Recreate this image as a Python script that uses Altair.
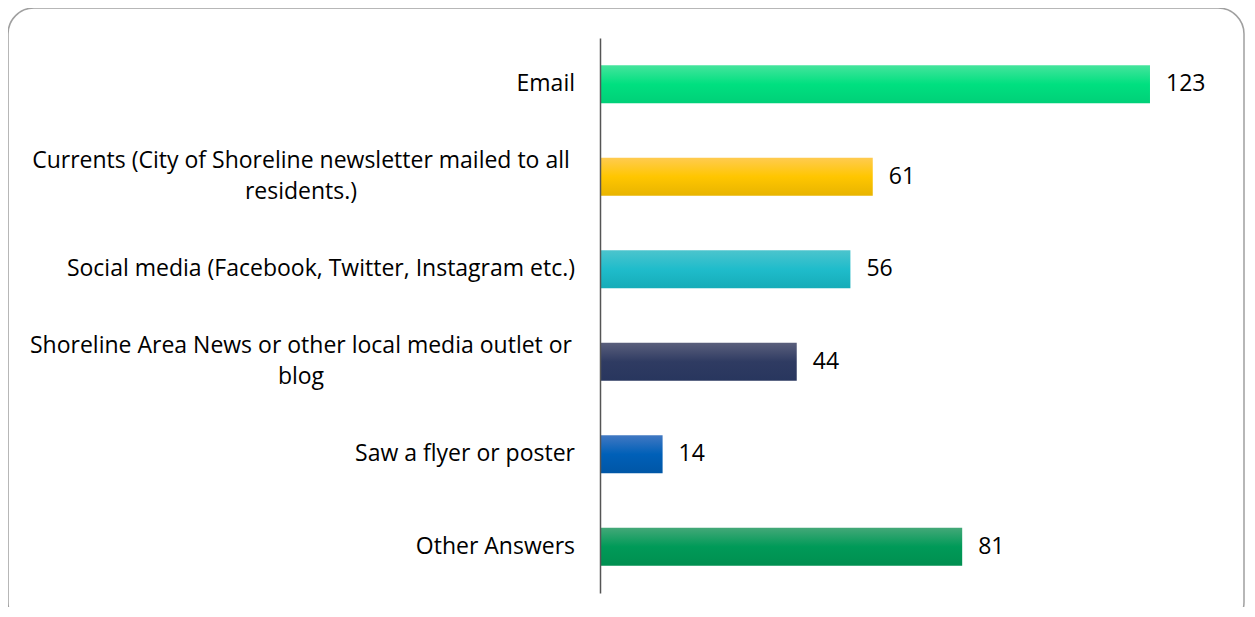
import altair as alt
import pandas as pd

categories = ["Email",
              "Currents (City of Shoreline newsletter mailed to all residents.)",
              "Social media (Facebook, Twitter, Instagram etc.)",
              "Shoreline Area News or other local media outlet or blog",
              "Saw a flyer or poster",
              "Other Answers"]
values = [123, 61, 56, 44, 14, 81]
single_labels = ["Email", "Social media (Facebook, Twitter, Instagram etc.)",
                 "Saw a flyer or poster", "Other Answers"]
multi_labels = {
    "Currents (City of Shoreline newsletter mailed to all residents.)":
        ["Currents (City of Shoreline newsletter mailed to all", "residents.)"],
    "Shoreline Area News or other local media outlet or blog":
        ["Shoreline Area News or other local media outlet or", "blog"],
}
gradients = [
    ["#45e49c", "#00e080", "#00d078"],
    ["#ffcb50", "#ffc600", "#e8b400"],
    ["#4cc4cd", "#1fbccb", "#16acb8"],
    ["#5a5f7c", "#2f3b62", "#28365e"],
    ["#4178c2", "#0060b8", "#0056a6"],
    ["#43a878", "#009a58", "#008f50"],
]

df = pd.DataFrame({"cat": categories, "val": values})
FONT = "Open Sans"
FS = 23

yscale = alt.Scale(domain=categories, paddingInner=0.59, paddingOuter=0.295)
xscale = alt.Scale(domain=[0, 140], nice=False)

border = alt.Chart(alt.Data(values=[{"a": 1}])).mark_rect(
    fill="transparent", stroke="#a0a0a0", strokeWidth=1.5, cornerRadius=26
).encode(x=alt.value(-592), x2=alt.value(644), y=alt.value(-30), y2=alt.value(590))

axis_layer = alt.Chart(df).mark_bar(opacity=0).encode(
    x=alt.X("val:Q", scale=xscale, axis=None),
    y=alt.Y("cat:N", scale=yscale, sort=categories,
            axis=alt.Axis(labels=False, ticks=False, title=None, grid=False,
                          domainColor="#555555", domainWidth=1.5, zindex=1)),
)

bars = []
for c, g in zip(categories, gradients):
    grad = alt.Gradient(gradient="linear", x1=0, x2=0, y1=0, y2=1,
                        stops=[alt.GradientStop(color=g[0], offset=0),
                               alt.GradientStop(color=g[1], offset=0.5),
                               alt.GradientStop(color=g[2], offset=1)])
    bars.append(alt.Chart(df).transform_filter(alt.datum.cat == c).mark_bar(fill=grad).encode(
        x=alt.X("val:Q", scale=xscale),
        y=alt.Y("cat:N", scale=yscale, sort=categories),
    ))

value_text = alt.Chart(df).mark_text(align="left", baseline="middle", dx=16,
                                     font=FONT, fontSize=FS, color="#000000").encode(
    x=alt.X("val:Q", scale=xscale),
    y=alt.Y("cat:N", scale=yscale, sort=categories),
    text="val:Q",
)

single_df = pd.DataFrame({"cat": single_labels, "txt": single_labels})
single_text = alt.Chart(single_df).mark_text(align="right", baseline="middle",
                                             font=FONT, fontSize=FS, color="#000000").encode(
    x=alt.value(-25),
    y=alt.Y("cat:N", scale=yscale, sort=categories),
    text="txt:N",
)

multi_rows = [{"cat": k, "txt": v} for k, v in multi_labels.items()]
multi_text = alt.Chart(alt.Data(values=multi_rows)).mark_text(
    align="center", baseline="middle", lineHeight=31, dy=-15.5,
    font=FONT, fontSize=FS, color="#000000").encode(
    x=alt.value(-299),
    y=alt.Y("cat:N", scale=yscale, sort=categories),
    text=alt.Text("txt:N"),
)

chart = alt.layer(border, axis_layer, *bars, value_text, single_text, multi_text).properties(
    width=626, height=555,
    padding={"left": 592, "top": 30, "right": 20, "bottom": 14},
    autosize=alt.AutoSizeParams(type="none"),
).configure_view(stroke=None)

chart.save("out.html", embed_options={"renderer": "svg", "actions": False})
